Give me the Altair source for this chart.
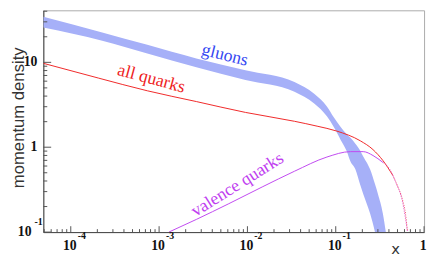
import altair as alt
import pandas as pd

# ---- data ----
# gluon band: x, lower edge, upper edge
g_x = [4.89e-5, 2.27e-4, 7.36e-4, 2.64e-3, 9.5e-3, 0.0341, 0.057, 0.0794, 0.095, 0.1137,
       0.1325, 0.1468, 0.1668, 0.1896, 0.2047, 0.2448, 0.278, 0.3004, 0.3415, 0.369]
g_hi = [34.5, 22.5, 16.1, 11.12, 8.08, 5.87, 4.27, 3.02, 2.25, 1.73,
        1.43, 1.29, 1.10, 0.911, 0.776, 0.55, 0.368, 0.282, 0.166, 0.1]
g_lo = [25.7, 17.96, 12.7, 8.75, 6.19, 4.5, 3.27, 2.31, 1.73, 1.22,
        0.911, 0.68, 0.55, 0.359, 0.282, 0.166, 0.1, 0.065, 0.044, 0.04]

# all quarks
r_x = [4.89e-5, 2.05e-4, 7.36e-4, 2.64e-3, 9.5e-3, 0.0341, 0.0615, 0.1026, 0.1896,
       0.2644, 0.3415, 0.441, 0.501, 0.5694, 0.615, 0.647]
r_y = [9.74, 6.53, 4.62, 3.45, 2.57, 2.02, 1.77, 1.55, 1.19,
       0.936, 0.698, 0.469, 0.349, 0.241, 0.166, 0.105]

# valence quarks
v_x = [1.29e-3, 2.64e-3, 6.15e-3, 0.01468, 0.0341, 0.0794, 0.1468, 0.2047, 0.2644,
       0.3415, 0.4085, 0.4764, 0.5694, 0.615, 0.647]
v_y = [0.1, 0.141, 0.216, 0.340, 0.521, 0.766, 0.887, 0.887, 0.798,
       0.662, 0.55, 0.389, 0.228, 0.145, 0.103]

# axis ticks / labels
x_major = [1e-4, 1e-3, 1e-2, 1e-1, 1.0]
x_base = ["10", "10", "10", "10", "1"]
x_exp = ["-4", "-3", "-2", "-1", ""]
decades = [1e-5, 1e-4, 1e-3, 1e-2, 1e-1, 1.0, 10.0]
mults = [2, 3, 4, 5, 6, 7, 8, 9]
X_MIN, X_MAX = 4.89e-5, 1.0
Y_MIN, Y_MAX = 0.1, 41.0
x_minor = [d * m for d in decades for m in mults if X_MIN <= d * m < X_MAX]
y_major = [0.1, 1.0, 10.0]
y_minor = [d * m for d in decades for m in mults if Y_MIN < d * m <= Y_MAX]

W, H = 388, 226

xs = alt.Scale(type="log", domain=[X_MIN, X_MAX], nice=False)
ys = alt.Scale(type="log", domain=[Y_MIN, Y_MAX], nice=False)

xaxis = alt.Axis(title="x", labels=False, ticks=False, grid=False,
                 domainColor="#444", domainWidth=1,
                 titleFont="DejaVu Sans", titleFontSize=15, titleFontWeight="normal",
                 titleColor="#333", titleX=358.5, titleY=17,
                 titleBaseline="middle", titleAlign="center")
yaxis = alt.Axis(title="momentum density", labels=False, ticks=False, grid=False,
                 domainColor="#444", domainWidth=1,
                 titleFont="Liberation Sans", titleFontSize=17, titleFontWeight="normal",
                 titleColor="#333", titleX=-20, titleY=109, titleAngle=270,
                 titleBaseline="alphabetic", titleAlign="center")

X = lambda f="x": alt.X(f"{f}:Q", scale=xs, axis=xaxis)
Y = lambda f="y": alt.Y(f"{f}:Q", scale=ys, axis=yaxis)

band = alt.Chart(pd.DataFrame({"x": g_x, "y": g_lo, "y2": g_hi})).mark_area(
    color="#a6b0f8", clip=True, interpolate="monotone").encode(
    x=X(), y=Y(), y2="y2:Q")

red_df = pd.DataFrame({"x": r_x, "y": r_y})
red = alt.Chart(red_df).mark_line(color="#f02828", strokeWidth=1, clip=True,
                                  interpolate="monotone").encode(x=X(), y=Y()).transform_filter("datum.x <= 0.47")
red_dot = alt.Chart(red_df).mark_line(color="#f04060", strokeWidth=1, clip=True, strokeDash=[1, 1.5],
                                      interpolate="monotone").encode(x=X(), y=Y()).transform_filter("datum.x >= 0.44")

vio_df = pd.DataFrame({"x": v_x, "y": v_y})
vio = alt.Chart(vio_df).mark_line(color="#c048f0", strokeWidth=1, clip=True,
                                  interpolate="monotone").encode(x=X(), y=Y()).transform_filter("datum.x <= 0.35")
vio_dot = alt.Chart(vio_df).mark_line(color="#e050c8", strokeWidth=1, clip=True, strokeDash=[1, 1.5],
                                      interpolate="monotone").encode(x=X(), y=Y()).transform_filter("datum.x >= 0.34")

# curve labels
def label(txt, x, y, ang, col):
    return alt.Chart(pd.DataFrame({"x": [x], "y": [y], "t": [txt]})).mark_text(
        font="Liberation Serif", fontSize=18, angle=ang, color=col,
        align="center", baseline="middle").encode(x=X(), y=Y(), text="t:N")

lab_g = label("gluons", 5.55e-3, 12.05, 14, "#3446f2")
lab_q = label("all quarks", 8.15e-4, 6.36, 15, "#ee1c1c")
lab_v = label("valence quarks", 7.74e-3, 0.359, 328, "#c03ef0")

# ticks (ROOT style, inside)
tick_col = "#555"
xt_maj = alt.Chart(pd.DataFrame({"x": x_major})).mark_rule(color=tick_col).encode(
    x=X(), y=alt.value(H), y2=alt.value(H - 6))
xt_min = alt.Chart(pd.DataFrame({"x": x_minor})).mark_rule(color=tick_col).encode(
    x=X(), y=alt.value(H), y2=alt.value(H - 3))
yt_maj = alt.Chart(pd.DataFrame({"y": y_major})).mark_rule(color=tick_col).encode(
    y=Y(), x=alt.value(0), x2=alt.value(8))
yt_min = alt.Chart(pd.DataFrame({"y": y_minor})).mark_rule(color=tick_col).encode(
    y=Y(), x=alt.value(0), x2=alt.value(4))

# tick labels
lab_font = dict(font="Liberation Serif", fontWeight="bold", color="#111")
xl_df = pd.DataFrame({"x": x_major, "b": x_base, "e": x_exp})
xl_base = alt.Chart(xl_df).mark_text(fontSize=14, align="center", baseline="middle", dx=-1, **lab_font).encode(
    x=X(), y=alt.value(H + 14.5), text="b:N")
xl_exp = alt.Chart(xl_df).mark_text(fontSize=10, align="left", baseline="middle", dx=7, **lab_font).encode(
    x=X(), y=alt.value(H + 4.5), text="e:N")

yl_df = pd.DataFrame({"y": [1.0, 10.0], "b": ["1", "10"]})
yl_base = alt.Chart(yl_df).mark_text(fontSize=14, align="right", baseline="middle", **lab_font).encode(
    y=Y(), x=alt.value(-6), text="b:N")
yl0_df = pd.DataFrame({"y": [0.1], "b": ["10"], "e": ["-1"]})
yl0_base = alt.Chart(yl0_df).mark_text(fontSize=14, align="right", baseline="middle", **lab_font).encode(
    y=Y(), x=alt.value(-12), text="b:N")
yl0_exp = alt.Chart(yl0_df).mark_text(fontSize=10, align="left", baseline="middle", dy=-10, **lab_font).encode(
    y=Y(), x=alt.value(-9), text="e:N")

chart = alt.layer(
    band, red, red_dot, vio, vio_dot, lab_g, lab_q, lab_v,
    xt_maj, xt_min, yt_maj, yt_min,
    xl_base, xl_exp, yl_base, yl0_base, yl0_exp,
).properties(
    width=W, height=H,
    autosize=alt.AutoSizeParams(type="none"),
    padding={"left": 36, "top": 0, "right": 4, "bottom": 22},
    background="white",
).configure_view(stroke="#aaa", strokeWidth=1)

chart.save("out.html", embed_options={"renderer": "svg", "actions": False})
